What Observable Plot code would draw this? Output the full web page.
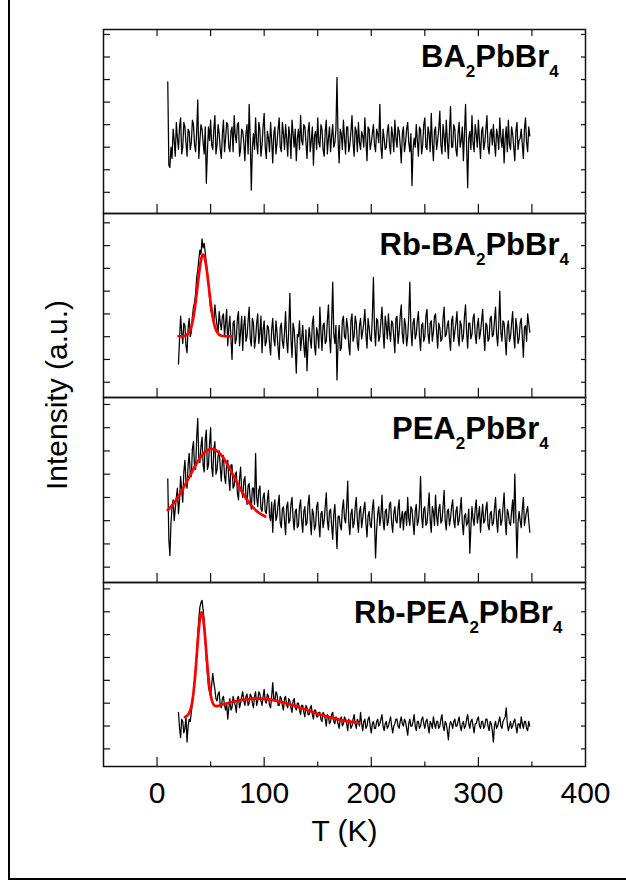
<!DOCTYPE html>
<html><head><meta charset="utf-8">
<script src="https://cdn.jsdelivr.net/npm/d3@7"></script>
<script src="https://cdn.jsdelivr.net/npm/@observablehq/plot@0.6"></script>
<style>
html,body{margin:0;padding:0;background:#fff;}
#wrap{position:relative;width:626px;height:884px;overflow:hidden;background:#fff;font-family:"Liberation Sans",Arial,sans-serif;}
#border{position:absolute;left:8px;top:-10px;width:700px;height:888px;border-left:2.5px solid #000;border-bottom:2.5px solid #000;}
.panel{position:absolute;left:0;}
</style></head><body><div id="wrap"><div id="border"></div></div>
<script>
// ---- data (intensity in each panel's own arbitrary units; ticks at 0..7) ----
const xLabel = "T (K)";
const yLabel = "Intensity (a.u.)";
const xTickLabels = [0, 100, 200, 300, 400];
const xTicksAll = [0, 50, 100, 150, 200, 250, 300, 350];
const xTicksMajor = [0, 100, 200, 300];
const xTicksMinor = [50, 150, 250, 350];
const yTicks = [0, 1, 2, 3, 4, 5, 6, 7];

const labelBA = [["BA", 0], ["2", 1], ["PbBr", 0], ["4", 1]];
const labelRbBA = [["Rb-BA", 0], ["2", 1], ["PbBr", 0], ["4", 1]];
const labelPEA = [["PEA", 0], ["2", 1], ["PbBr", 0], ["4", 1]];
const labelRbPEA = [["Rb-PEA", 0], ["2", 1], ["PbBr", 0], ["4", 1]];

// sampling: start temperature and step (K)
const start1 = 10, start2 = 20, start3 = 10, start4 = 20, stepT = 1;

const ba = [4.9,1.2,1.1,2.0,1.5,2.8,2.3,1.6,3.1,2.4,1.9,2.9,3.3,1.7,2.0,3.1,2.9,2.2,1.6,2.8,
2.7,1.9,2.2,3.2,3.0,2.1,1.8,2.7,4.1,1.5,2.3,3.0,2.8,2.2,1.7,2.9,0.4,1.8,2.9,2.3,
3.2,2.1,1.9,2.8,3.4,1.7,2.1,3.0,2.6,1.9,1.5,2.6,3.2,1.8,2.4,3.1,3.0,2.0,1.8,2.7,
2.9,1.8,3.4,2.5,2.2,3.0,3.1,1.6,1.9,2.8,2.7,2.2,1.4,2.6,3.0,1.7,3.9,2.4,0.1,2.0,
2.6,1.9,3.3,2.2,1.7,3.1,2.8,1.6,2.1,2.9,3.5,2.0,1.5,2.7,2.4,1.8,3.1,2.3,1.3,2.6,
2.9,1.7,2.2,2.8,3.3,2.0,1.8,3.1,2.6,1.9,3.0,2.4,1.6,2.9,2.5,1.5,3.2,2.6,2.0,2.8,
1.4,2.4,2.8,1.9,3.4,2.3,2.1,3.0,2.9,2.2,1.5,2.7,3.1,1.8,2.3,2.9,1.2,2.5,2.7,1.9,
3.3,2.2,2.0,3.0,2.8,1.9,1.6,2.7,3.2,1.7,2.4,2.9,1.8,2.5,3.0,2.0,2.2,2.8,5.1,2.3,
1.3,2.8,2.6,1.9,3.2,2.4,1.7,2.9,2.9,1.8,2.1,2.7,3.4,2.2,1.6,2.9,2.7,1.8,3.1,2.2,
1.9,2.7,2.5,2.0,3.3,2.3,1.4,2.9,2.8,1.9,2.2,2.6,3.0,2.1,1.8,2.8,2.6,2.2,3.9,2.0,
1.5,2.8,2.4,1.9,2.0,2.7,3.0,2.1,1.7,2.9,2.5,1.8,3.2,2.4,2.0,2.9,2.7,2.1,1.3,2.6,
2.9,1.8,2.2,2.8,3.1,2.2,1.8,2.6,0.3,1.9,2.4,2.0,3.0,2.3,1.6,2.9,2.8,1.7,2.1,3.0,
3.3,2.0,1.9,2.9,2.6,1.8,3.5,2.2,1.4,2.7,2.9,1.9,2.3,2.8,3.6,2.1,1.7,3.0,2.5,1.8,
3.2,2.3,1.5,2.7,3.8,2.0,2.0,3.0,2.8,1.9,1.6,2.6,3.1,2.0,2.3,2.9,1.4,2.6,3.9,2.1,
0.2,2.4,2.7,1.9,3.4,2.2,1.8,3.0,2.6,2.0,3.2,2.3,1.5,2.7,2.9,1.9,2.2,2.8,3.4,2.0,
1.7,2.6,2.8,2.1,3.0,2.2,1.6,2.8,2.5,1.9,3.3,2.4,2.0,2.8,1.3,2.4,2.9,1.8,3.2,2.1,
1.9,2.9,2.6,2.0,1.4,2.7,3.1,1.9,2.3,2.4,2.8,2.1,1.5,2.8,3.3,2.2,1.8,2.9,2.5];

const rbba = [0.8,1.9,2.9,2.2,1.7,2.6,2.5,1.6,1.3,2.4,2.8,2.0,2.2,2.9,3.3,3.5,3.9,4.6,4.9,5.4,
5.8,5.6,6.3,5.9,6.1,5.7,5.2,4.8,4.3,3.7,3.2,3.0,2.8,2.6,3.4,2.9,2.5,2.2,3.1,2.6,
2.3,2.9,3.0,2.0,2.6,3.2,1.6,2.4,2.9,1.9,1.0,2.6,2.7,1.7,1.9,2.8,3.1,1.6,2.2,2.9,
1.4,2.5,2.9,1.8,2.0,2.7,3.3,1.9,1.6,2.8,2.6,1.5,1.9,2.6,3.0,1.7,2.2,2.9,1.3,2.3,
2.7,1.6,1.8,2.5,2.4,1.7,1.2,2.3,2.8,1.9,1.6,2.7,2.2,1.5,1.0,2.4,2.6,1.8,1.5,2.2,
3.1,1.8,1.3,2.4,3.9,1.9,1.1,2.6,2.3,1.5,0.4,2.1,2.0,2.7,1.4,1.9,2.5,1.6,1.1,2.3,
0.5,1.7,2.4,1.9,1.5,2.6,2.9,1.6,1.2,2.4,2.1,1.5,3.3,2.2,1.4,2.5,2.6,1.7,1.8,2.7,
3.4,2.0,1.3,2.6,4.4,2.1,1.7,2.5,0.1,1.8,2.5,1.4,1.5,2.7,2.9,2.0,1.9,2.8,2.4,1.6,
1.2,2.7,3.0,1.8,2.0,2.9,2.6,1.7,1.4,2.5,2.8,1.9,2.2,2.6,3.2,2.1,1.5,2.8,2.4,1.9,
1.8,2.9,4.6,2.3,1.6,2.8,2.7,1.8,2.0,2.7,3.3,2.2,1.5,2.9,2.5,1.9,3.0,2.2,1.8,2.7,
2.6,2.0,1.3,2.8,2.9,1.7,2.2,2.9,3.4,2.1,1.7,2.8,2.5,1.6,2.0,2.9,4.4,2.3,1.6,2.6,
2.8,1.9,2.1,2.7,3.1,2.0,1.4,2.5,2.6,1.8,2.0,2.9,3.2,2.1,1.7,2.6,2.7,1.8,2.2,2.9,
3.0,2.2,1.5,2.6,2.4,1.8,1.9,2.8,3.3,2.0,2.1,2.5,2.7,1.9,1.4,2.7,2.9,1.8,2.2,2.6,
3.1,2.0,1.6,2.7,2.5,1.8,2.0,2.9,3.4,2.2,1.5,2.6,2.6,1.9,2.1,2.8,3.0,2.1,1.7,2.5,
2.8,1.9,2.2,2.7,3.2,2.1,1.4,2.6,2.5,1.8,1.9,2.8,2.9,2.0,2.1,2.7,3.3,2.1,1.6,2.5,
4.0,2.2,1.8,2.7,2.6,1.9,1.2,2.4,2.7,1.8,2.0,2.6,3.1,2.0,1.5,2.8,2.4,1.7,1.9,2.6,
2.8,2.0,1.1,2.4,2.5,1.8,3.0,2.6,2.2];

const pea = [3.8,1.2,0.5,1.9,2.6,2.9,2.0,2.5,3.0,3.4,2.3,2.9,3.9,3.3,2.8,4.1,4.6,3.7,3.4,4.4,
4.9,4.0,3.9,5.1,5.4,4.3,4.2,5.6,6.4,4.6,4.5,5.2,5.6,4.4,4.1,5.5,5.9,4.2,4.4,5.3,
6.0,4.3,3.9,5.1,5.4,4.0,4.2,4.8,5.0,4.3,3.7,4.6,4.8,3.9,3.6,4.5,4.6,3.8,3.3,4.4,
4.4,3.4,3.5,4.0,4.1,3.2,2.9,3.8,4.3,3.3,3.0,3.7,3.9,3.1,2.7,3.5,3.6,2.9,2.5,3.4,
3.4,2.7,4.9,3.0,2.6,3.3,3.5,2.5,2.4,3.0,3.2,2.4,2.3,2.9,3.3,2.2,2.0,2.8,1.5,2.6,
2.9,2.0,2.2,2.7,3.1,1.9,1.7,2.5,2.6,2.0,1.4,2.6,2.8,1.9,2.0,2.7,3.0,2.1,1.6,2.4,
2.5,1.7,1.8,2.6,2.9,2.0,1.5,2.4,2.6,1.8,1.9,2.7,3.1,2.0,1.4,2.5,2.3,1.6,1.8,2.6,
2.8,1.9,1.3,2.3,2.4,1.7,2.0,2.6,3.2,2.0,1.6,2.4,2.5,1.8,1.2,2.3,2.7,1.7,0.8,2.2,
2.2,1.8,1.6,2.5,2.9,2.1,1.9,2.6,3.7,1.9,1.4,2.3,2.5,1.7,1.9,2.6,3.0,2.0,1.5,2.4,
2.6,1.7,2.1,2.5,2.8,1.9,1.3,2.2,2.4,1.8,1.7,2.5,2.9,2.0,0.4,1.6,2.3,2.6,1.8,2.2,
3.1,2.0,1.6,2.4,2.5,1.8,2.0,2.7,2.8,1.9,1.5,2.3,2.6,2.0,1.9,2.5,2.9,1.7,2.1,2.4,
1.6,2.3,2.4,1.8,3.0,2.1,1.8,2.6,2.5,1.9,1.4,2.4,2.7,1.8,2.0,2.6,3.9,2.2,1.7,2.5,
2.6,1.8,1.9,2.5,3.2,2.0,1.5,2.6,2.4,1.8,3.1,2.2,1.8,2.5,2.7,1.9,2.0,2.6,3.3,2.0,
1.6,2.4,2.5,1.8,2.1,2.6,2.9,2.0,1.7,2.4,2.6,1.8,2.0,2.5,3.0,1.9,1.4,2.2,2.3,1.8,
1.9,2.5,0.6,1.7,2.6,2.1,1.8,2.5,2.9,1.9,2.2,2.6,1.5,2.2,2.7,1.9,2.0,2.5,2.8,1.8,
1.6,2.3,2.4,1.8,1.9,2.5,3.0,2.0,1.5,2.4,2.5,1.8,2.0,2.6,3.2,2.0,1.4,2.5,2.3,1.9,
1.8,2.4,2.9,1.9,4.0,2.2,0.4,1.9,2.4,2.0,1.7,2.5,3.0,1.8,2.1,2.4,2.6,2.0,1.5];

const rbpea = [1.6,0.9,0.5,1.3,1.2,0.7,0.9,1.4,0.3,1.0,1.3,1.2,1.6,2.0,2.4,2.9,3.5,4.2,5.0,5.7,
6.2,6.4,6.5,6.1,5.6,4.8,3.9,3.3,2.7,2.5,2.3,2.8,3.3,2.9,2.6,2.2,2.1,2.4,2.5,1.9,
1.8,2.2,2.3,1.9,1.7,2.0,1.3,1.8,2.2,1.7,1.8,2.3,2.1,1.9,1.6,2.2,2.3,1.8,2.0,2.3,
2.5,2.1,1.9,2.3,2.4,1.9,2.0,2.4,2.3,2.0,1.8,2.3,2.5,1.9,2.1,2.5,2.4,2.1,1.9,2.3,
2.6,2.1,2.0,2.4,2.3,1.9,1.8,2.3,2.9,2.2,2.1,2.5,2.4,1.9,1.9,2.3,2.2,1.9,1.7,2.2,
2.3,1.9,1.8,2.2,2.1,1.8,1.6,2.1,2.2,1.8,1.7,2.0,2.0,1.7,1.5,1.9,1.9,1.6,1.4,1.9,
1.8,1.5,1.5,1.8,1.9,1.5,1.3,1.7,1.7,1.4,1.4,1.6,1.6,1.3,1.2,1.6,1.5,1.3,1.0,1.5,
1.4,1.1,1.2,1.5,1.6,1.2,1.1,1.4,1.3,1.1,0.9,1.3,1.4,1.0,1.1,1.4,1.3,1.1,0.8,1.3,
1.2,0.9,1.0,1.3,1.5,1.1,0.9,1.3,1.2,1.0,1.6,1.1,0.8,1.2,1.3,0.9,1.0,1.3,1.4,1.0,
0.7,1.1,1.2,0.9,0.9,1.2,1.3,1.0,1.1,1.3,1.5,1.0,0.8,1.1,1.2,0.9,1.0,1.2,1.4,1.0,
0.7,1.0,1.1,1.3,1.3,1.0,0.9,1.2,1.4,1.1,1.0,1.3,1.2,0.9,0.6,1.1,1.3,1.0,1.0,1.2,
1.5,1.0,0.8,1.2,1.2,0.9,1.0,1.3,1.4,1.1,0.9,1.2,1.3,1.0,0.7,1.2,1.1,0.9,1.4,1.1,
0.9,1.2,1.2,0.9,1.0,1.3,1.5,1.0,0.8,1.2,1.1,0.8,0.4,1.0,1.2,1.1,0.9,1.2,1.3,1.0,
1.0,1.2,1.4,1.0,0.8,1.1,1.2,0.9,1.0,1.3,1.5,1.1,0.9,1.2,1.3,1.0,0.7,1.1,1.1,1.3,
1.4,1.0,0.9,1.2,1.2,0.9,1.0,1.3,1.3,1.0,0.8,1.2,1.1,0.8,0.3,1.0,1.2,0.9,1.0,1.2,
1.4,1.0,0.9,1.2,1.3,1.4,1.8,1.1,0.8,1.0,1.2,0.9,1.0,1.2,1.3,1.0,0.7,1.1,1.1,0.9,
1.4,1.1,0.9,1.2,1.2,0.9,0.8,1.2,1.0];

// fitted curves (red)
const fitRbBA_T = [20,24,26,28,30,32,33,34,35,36,37,38,39,40,41,42,43,44,45,46,47,48,49,50,51,52,53,54,56,58,60,64,69.5];
const fitRbBA_V = [2.02,2.02,2.04,2.09,2.20,2.44,2.62,2.87,3.17,3.52,3.91,4.31,4.71,5.07,5.35,5.54,5.60,5.54,5.35,5.07,4.71,4.31,3.91,3.52,3.17,2.87,2.62,2.44,2.20,2.09,2.04,2.02,2.02];
const fitPEA_T = [10,15,20,25,30,35,40,45,50,55,60,65,70,75,80,85,90,95,101];
const fitPEA_V = [2.46,2.71,3.04,3.44,3.87,4.31,4.69,4.97,5.09,5.03,4.82,4.47,4.05,3.61,3.19,2.83,2.55,2.34,2.18];
const fitRbPEA_T = [26,28,30,32,34,36,37,38,39,40,41,41.5,42,43,44,45,46,47,48,50,52,54,56,60,70,80,90,100,110,120,130,140,150,160,170,180,188.6];
const fitRbPEA_V = [1.40,1.45,1.57,1.86,2.46,3.46,4.07,4.69,5.25,5.69,5.93,5.97,5.94,5.74,5.33,4.80,4.21,3.63,3.11,2.38,2.01,1.88,1.87,1.92,2.05,2.15,2.20,2.19,2.12,2.00,1.86,1.70,1.54,1.40,1.28,1.19,1.13];

// ---- build ----
const FONT = "'Liberation Sans', Arial, Helvetica, sans-serif";
const toRows = (vals, t0) => vals.map((v, i) => ({T: t0 + i * stepT, v}));
const zipRows = (ts, vs) => ts.map((t, i) => ({T: t, v: vs[i]}));

const panels = [
  {data: toRows(ba, start1), fit: null, label: labelBA, yDomain: [-0.94, 7.22],
   top: 0, height: 213, mt: 29, mb: 0, lx: 421, ly: 66.7, topTicks: true, last: false},
  {data: toRows(rbba, start2), fit: zipRows(fitRbBA_T, fitRbBA_V), label: labelRbBA, yDomain: [-0.67, 7.41],
   top: 213, height: 184, mt: 0, mb: 0, lx: 379.5, ly: 42, topTicks: false, last: false},
  {data: toRows(pea, start3), fit: zipRows(fitPEA_T, fitPEA_V), label: labelPEA, yDomain: [-0.66, 7.30],
   top: 397, height: 185, mt: 0, mb: 0, lx: 392, ly: 42.3, topTicks: false, last: false},
  {data: toRows(rbpea, start4), fit: zipRows(fitRbPEA_T, fitRbPEA_V), label: labelRbPEA, yDomain: [-0.77, 7.28],
   top: 582, height: 302, mt: 0, mb: 118, lx: 354, ly: 40.7, topTicks: false, last: true}
];

const wrap = document.getElementById("wrap");
const INK = "#111";

for (const p of panels) {
  const marks = [
    Plot.line(p.data, {x: "T", y: "v", stroke: "#000", strokeWidth: 1.25}),
  ];
  if (p.fit) marks.push(Plot.line(p.fit, {x: "T", y: "v", stroke: "#ff0000", strokeWidth: 2.7, curve: "catmull-rom"}));
  marks.push(
    Plot.axisY({anchor: "left", ticks: yTicks, tickSize: -7, fill: "none", label: null, stroke: INK, strokeWidth: 1.2}),
    Plot.axisY({anchor: "right", ticks: yTicks, tickSize: -5, fill: "none", label: null, stroke: INK, strokeWidth: 1.2})
  );
  if (p.topTicks) marks.push(Plot.axisX({anchor: "top", ticks: xTicksAll, tickSize: -6, fill: "none", label: null, stroke: INK, strokeWidth: 1.2}));
  if (!p.last) {
    marks.push(Plot.axisX({anchor: "bottom", ticks: xTicksAll, tickSize: -9, fill: "none", label: null, stroke: INK, strokeWidth: 1.2}));
  } else {
    marks.push(
      Plot.axisX({anchor: "bottom", ticks: xTicksMajor, tickSize: -9, fill: "none", label: null, stroke: INK, strokeWidth: 1.2}),
      Plot.axisX({anchor: "bottom", ticks: xTicksMinor, tickSize: -4.5, fill: "none", label: null, stroke: INK, strokeWidth: 1.2}),
      Plot.axisX({anchor: "bottom", ticks: xTickLabels, tickSize: 0, tickPadding: 15, label: null, fontSize: 30, fill: "#000", tickFormat: d => String(d)}),
      Plot.text([xLabel], {text: d => d, frameAnchor: "bottom", dy: 65, lineAnchor: "middle", fontSize: 30, fill: "#000"})
    );
  }
  marks.push(Plot.frame({stroke: INK, strokeWidth: 1.5}));

  const svg = Plot.plot({
    width: 626, height: p.height,
    marginLeft: 103, marginRight: 41, marginTop: p.mt, marginBottom: p.mb,
    x: {domain: [-50, 400], axis: null},
    y: {domain: p.yDomain, axis: null},
    style: {background: "transparent", overflow: "visible", fontFamily: FONT, fontSize: "30px", color: "#000"},
    marks
  });
  svg.classList.add("panel");
  svg.style.top = p.top + "px";
  svg.style.position = "absolute";
  svg.style.left = "0px";

  // panel label with subscripts
  const t = d3.select(svg).append("text")
    .attr("x", p.lx).attr("y", p.ly).attr("text-anchor", "start")
    .attr("font-family", FONT).attr("font-weight", "bold").attr("font-size", 31).attr("fill", "#000");
  let prevSub = false;
  for (const [s, sub] of p.label) {
    const ts = t.append("tspan").text(s);
    if (sub) ts.attr("font-size", 17);
    if (sub && !prevSub) ts.attr("dy", 10);
    if (!sub && prevSub) ts.attr("dy", -10);
    prevSub = !!sub;
  }
  wrap.appendChild(svg);
}

// y-axis title (spans all panels)
const overlay = d3.create("svg").attr("width", 626).attr("height", 884)
  .style("position", "absolute").style("left", "0px").style("top", "0px").style("pointer-events", "none");
overlay.append("text")
  .attr("transform", "translate(66.5,395) rotate(-90)")
  .attr("text-anchor", "middle")
  .attr("font-family", FONT).attr("font-size", 30).attr("fill", "#000")
  .text(yLabel);
wrap.appendChild(overlay.node());
</script></body></html>
